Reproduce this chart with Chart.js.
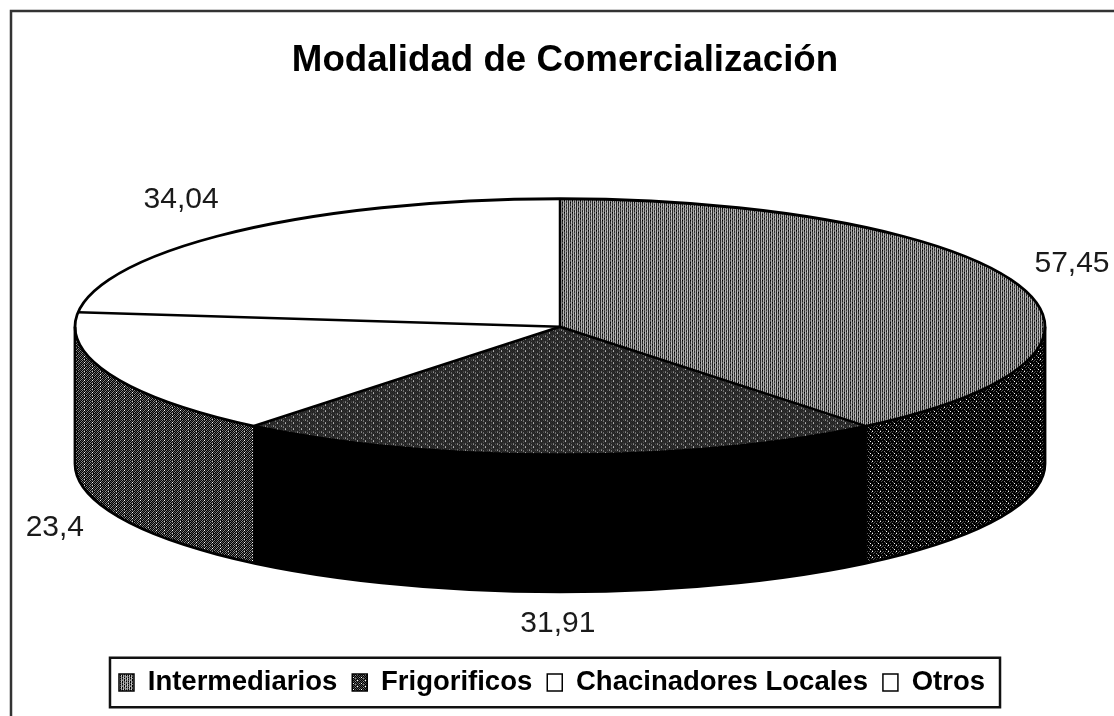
<!DOCTYPE html>
<html><head><meta charset="utf-8">
<style>html,body{margin:0;padding:0;background:#fff}canvas{display:block}</style>
<script src="https://cdn.jsdelivr.net/npm/chart.js@4/dist/chart.umd.min.js"></script>
</head><body>
<canvas id="c" width="1114" height="716" style="width:1114px;height:716px"></canvas>
<script>
const chartTitle = 'Modalidad de Comercialización';
const categories = ['Intermediarios', 'Frigorificos', 'Chacinadores Locales', 'Otros'];
const values = [57.45, 31.91, 23.4, 34.04];
const valueLabelOffsets = [[55, -20], [-2, 32], [-56, 16], [-56, -32]];

const TILT = 128 / 485, DEPTH = 137, RADIUS = 485;

function tile(rows, colors, scaleY) {
  const h = rows.length, w = rows[0].length;
  const cv = document.createElement('canvas'); cv.width = w; cv.height = h;
  const g = cv.getContext('2d');
  rows.forEach((r, y) => [...r].forEach((ch, x) => { g.fillStyle = colors[ch]; g.fillRect(x, y, 1, 1); }));
  const p = g.createPattern(cv, 'repeat');
  if (scaleY) p.setTransform(new DOMMatrix().scale(1, scaleY));
  return p;
}
const pal = {k:'#000', d:'#505050', m:'#8a8a8a', g:'#a8a8a8', l:'#d0d0d0', w:'#fff'};
const intermRows = ['dgkgmgkl','kgdgkgdl','dgmgkldg','klkgdgkg','dgkgdgmg','kgdlkgdg'];
const frigoRows  = ['dkdmdkdk','kdkdkdkd','dkdkdwdk','kdkmkdkd','dkdkdkdk','kwkdkdkm'];
const intermWallRows = ['kkdkkkkd','kdkkmkkk','kkkkkdkk','kkdkkkwk','dkkkkkkk','wkkdkdkk'];
const chacWallRows = ['dkmkdkmk','kmkdkmkd','mkdkwkdk','kdkmkdkm','dkmkdkmk','kmkdlkkd'];
const topFills = () => [tile(intermRows, pal, 1/TILT), tile(frigoRows, pal, 1/TILT), '#ffffff', '#ffffff'];
const wallFills = () => [tile(intermWallRows, pal), '#000000', tile(chacWallRows, pal), '#ffffff'];
const legendFills = () => [tile(intermRows, pal), tile(frigoRows, pal), '#ffffff', '#ffffff'];

const pie3d = {
  id: 'pie3d',
  afterLayout(chart) {
    chart.titleBlock.left += 5; chart.titleBlock.right += 5;
    const lg = chart.legend, h = lg.height;
    lg.top = 680 - h / 2; lg.bottom = lg.top + h;
    lg.left -= 8; lg.right -= 8;
  },
  beforeDatasetsDraw(chart) {
    const ctx = chart.ctx, arcs = chart.getDatasetMeta(0).data, w = wallFills();
    arcs.forEach((a, i) => {
      const s = Math.max(a.startAngle, 0), e = Math.min(a.endAngle, Math.PI);
      if (e <= s) return;
      ctx.beginPath();
      ctx.ellipse(a.x, a.y, a.outerRadius, a.outerRadius * TILT, 0, s, e);
      ctx.ellipse(a.x, a.y + DEPTH, a.outerRadius, a.outerRadius * TILT, 0, e, s, true);
      ctx.closePath();
      ctx.fillStyle = w[i]; ctx.fill();
      ctx.strokeStyle = '#000'; ctx.lineWidth = 1; ctx.stroke();
    });
    ctx.save();
    const a = arcs[0];
    ctx.translate(a.x, a.y); ctx.scale(1, TILT); ctx.translate(-a.x, -a.y);
  },
  afterDatasetsDraw(chart) {
    const ctx = chart.ctx, arcs = chart.getDatasetMeta(0).data;
    ctx.restore();
    const a0 = arcs[0];
    ctx.strokeStyle = '#000';
    ctx.lineWidth = 2.5;
    arcs.forEach(a => {
      ctx.beginPath();
      ctx.moveTo(a.x, a.y);
      ctx.lineTo(a.x + a.outerRadius * Math.cos(a.startAngle), a.y + a.outerRadius * TILT * Math.sin(a.startAngle));
      ctx.stroke();
    });
    ctx.lineWidth = 2.8;
    ctx.beginPath();
    ctx.ellipse(a0.x, a0.y, a0.outerRadius, a0.outerRadius * TILT, 0, 0, Math.PI * 2);
    ctx.stroke();
    ctx.beginPath();
    ctx.moveTo(a0.x + a0.outerRadius, a0.y);
    ctx.lineTo(a0.x + a0.outerRadius, a0.y + DEPTH);
    ctx.ellipse(a0.x, a0.y + DEPTH, a0.outerRadius, a0.outerRadius * TILT, 0, 0, Math.PI);
    ctx.lineTo(a0.x - a0.outerRadius, a0.y);
    ctx.stroke();
    ctx.lineWidth = 1;
    arcs.forEach(a => {
      if (a.startAngle > 0 && a.startAngle < Math.PI) {
        const x = a.x + a.outerRadius * Math.cos(a.startAngle);
        const y = a.y + a.outerRadius * TILT * Math.sin(a.startAngle);
        ctx.beginPath(); ctx.moveTo(x, y); ctx.lineTo(x, y + DEPTH); ctx.stroke();
      }
    });
    ctx.fillStyle = '#1a1a1a';
    ctx.font = '30px "Liberation Sans", Arial, sans-serif';
    ctx.textAlign = 'center'; ctx.textBaseline = 'middle';
    arcs.forEach((a, i) => {
      const m = (a.startAngle + a.endAngle) / 2;
      const front = Math.sin(m) > 0;
      const x = a.x + a.outerRadius * Math.cos(m) + valueLabelOffsets[i][0];
      const y = a.y + a.outerRadius * TILT * Math.sin(m) + (front ? DEPTH : 0) + valueLabelOffsets[i][1];
      ctx.fillText(String(values[i]).replace('.', ','), x, y);
    });
  },
  afterDraw(chart) {
    const ctx = chart.ctx, hit = chart.legend.legendHitBoxes;
    if (!hit.length) return;
    const l = Math.min(...hit.map(h => h.left)), r = Math.max(...hit.map(h => h.left + h.width));
    const t = Math.min(...hit.map(h => h.top)), b = Math.max(...hit.map(h => h.top + h.height));
    ctx.strokeStyle = '#111'; ctx.lineWidth = 2.5;
    ctx.strokeRect(l - 9, t - 11, r - l + 24, b - t + 22);
    ctx.lineWidth = 2.5; ctx.strokeStyle = '#333';
    ctx.beginPath();
    ctx.moveTo(11, chart.height); ctx.lineTo(11, 11); ctx.lineTo(chart.width, 11);
    ctx.stroke();
  }
};

new Chart(document.getElementById('c'), {
  type: 'doughnut',
  data: {
    labels: categories,
    datasets: [{ data: values, backgroundColor: topFills(), borderWidth: 0, clip: false, hoverOffset: 0 }]
  },
  options: {
    responsive: false, animation: false, cutout: 0, radius: RADIUS,
    layout: { padding: { left: 6, right: 0, top: 39, bottom: 93 } },
    plugins: {
      tooltip: { enabled: false },
      title: {
        display: true, text: chartTitle, color: '#000',
        font: { family: '"Liberation Sans", Arial, sans-serif', size: 36.7, weight: 'bold' },
        padding: { top: 0, bottom: 0 }
      },
      legend: {
        display: true, position: 'bottom',
        labels: {
          color: '#000', boxWidth: 15, boxHeight: 17, padding: 15,
          font: { family: '"Liberation Sans", Arial, sans-serif', size: 27.5, weight: 'bold' },
          generateLabels(chart) {
            const f = legendFills();
            return categories.map((t, i) => ({ text: t, fillStyle: f[i], strokeStyle: '#000', lineWidth: 1.5, index: i, hidden: false }));
          }
        }
      }
    }
  },
  plugins: [pie3d]
});
</script>
</body></html>
